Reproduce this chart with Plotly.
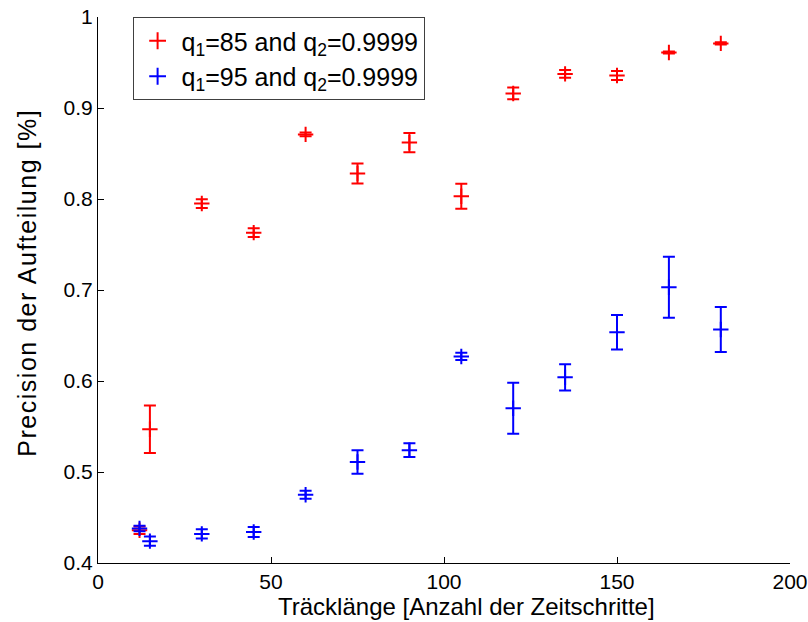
import plotly.graph_objects as go

# Track lengths (number of time steps)
track_len = [12, 15, 30, 45, 60, 75, 90, 105, 120, 135, 150, 165, 180]

# q1=85, q2=0.9999
prec_85 = [0.436, 0.547, 0.795, 0.763, 0.871, 0.828, 0.862, 0.803, 0.916, 0.9375, 0.9357, 0.961, 0.971]
err_85 = [0.004, 0.026, 0.0048, 0.0048, 0.002, 0.011, 0.0105, 0.0137, 0.0065, 0.0043, 0.005, 0.0012, 0.0012]

# q1=95, q2=0.9999
prec_95 = [0.438, 0.424, 0.432, 0.434, 0.475, 0.511, 0.524, 0.627, 0.570, 0.604, 0.6536, 0.703, 0.6566]
err_95 = [0.003, 0.005, 0.005, 0.0055, 0.0045, 0.013, 0.0075, 0.004, 0.028, 0.0145, 0.019, 0.0335, 0.0247]

x_ticks = [0, 50, 100, 150, 200]
y_ticks = [0.4, 0.5, 0.6, 0.7, 0.8, 0.9, 1.0]
y_tick_text = ["0.4", "0.5", "0.6", "0.7", "0.8", "0.9", "1"]

x_title = "Träcklänge [Anzahl der Zeitschritte]"
y_title = "Precision der Aufteilung [%]"

FONT = "Liberation Sans, Arial, Helvetica, sans-serif"


def series(x, y, err, color, name):
    return go.Scatter(
        x=x, y=y, mode="markers", name=name,
        marker=dict(symbol="cross-thin", size=11, color=color,
                    line=dict(width=2, color=color)),
        error_y=dict(type="data", array=err, visible=True,
                     color=color, thickness=2, width=6),
    )


fig = go.Figure()
fig.add_trace(series(track_len, prec_85, err_85, "#ff0000",
                     "q<sub>1</sub>=85 and q<sub>2</sub>=0.9999"))
fig.add_trace(series(track_len, prec_95, err_95, "#0000ff",
                     "q<sub>1</sub>=95 and q<sub>2</sub>=0.9999"))

axis_common = dict(
    showline=True, linecolor="black", linewidth=1,
    ticks="inside", ticklen=6, tickcolor="black", tickwidth=1,
    showgrid=False, zeroline=False, mirror=False, automargin=False,
    tickfont=dict(size=21, color="black", family=FONT),
)

fig.update_layout(
    width=808, height=622,
    margin=dict(l=98, r=18, t=17, b=59),
    paper_bgcolor="white", plot_bgcolor="white",
    font=dict(family=FONT, color="black"),
    showlegend=True,
    legend=dict(
        x=0.05, y=1.0, xanchor="left", yanchor="top",
        bgcolor="white", bordercolor="#404040", borderwidth=1,
        font=dict(size=25, color="black", family=FONT),
        itemsizing="constant", itemwidth=38,
    ),
    xaxis=dict(range=[0, 200], tickvals=x_ticks, **axis_common),
    yaxis=dict(range=[0.4, 1.0], tickvals=y_ticks, ticktext=y_tick_text,
               **axis_common),
    annotations=[
        dict(text=x_title, xref="paper", yref="paper", x=0.533, y=-0.079,
             xanchor="center", yanchor="middle", showarrow=False,
             font=dict(size=24, color="black", family=FONT)),
        dict(text='<span style="letter-spacing:1.5px">' + y_title + "</span>",
             xref="paper", yref="paper", x=-0.103, y=0.513,
             xanchor="center", yanchor="middle", showarrow=False, textangle=-90,
             font=dict(size=25, color="black", family=FONT)),
    ],
)

fig.write_html("out.html")
